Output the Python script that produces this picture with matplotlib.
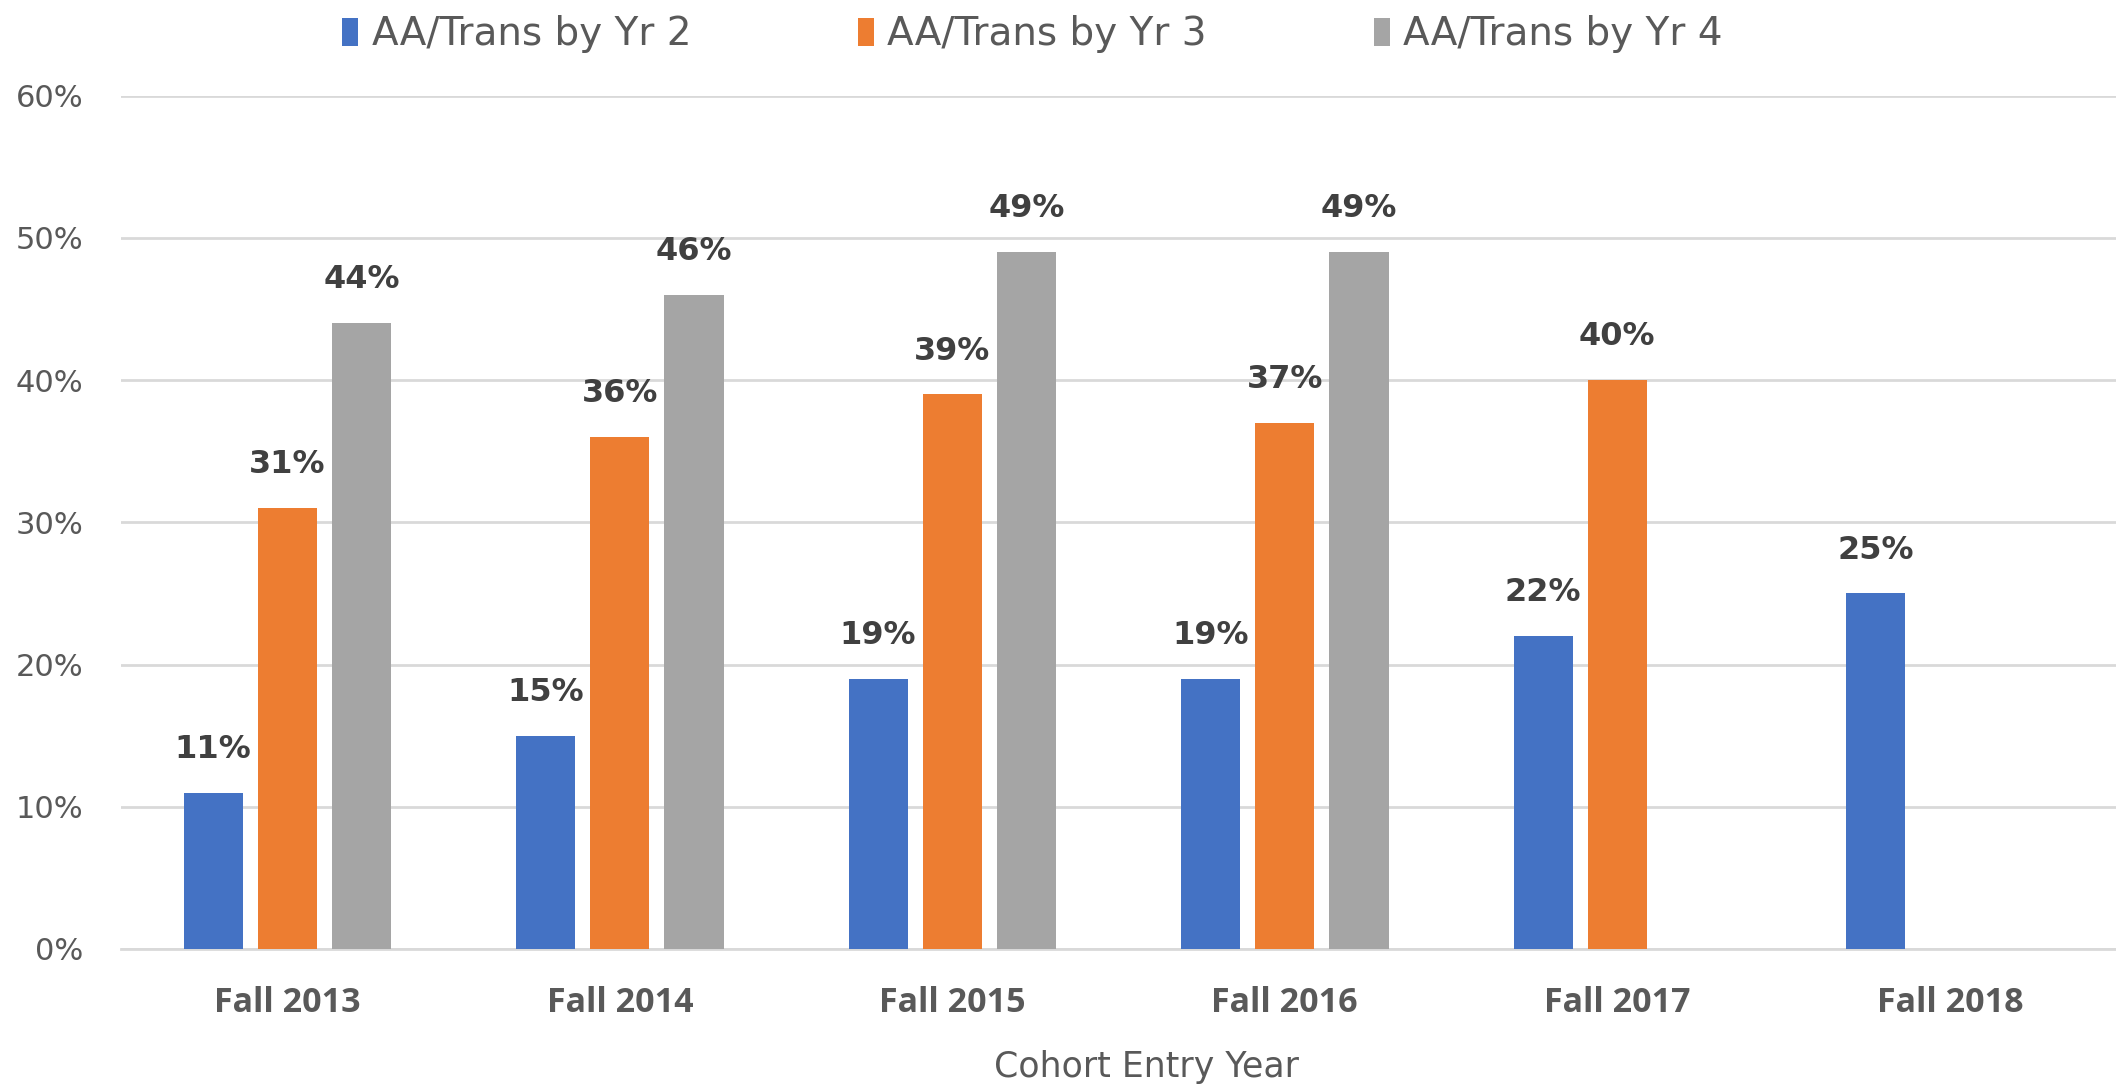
import matplotlib
matplotlib.use("Agg")
import matplotlib.pyplot as plt
import numpy as np

categories = ["Fall 2013", "Fall 2014", "Fall 2015", "Fall 2016", "Fall 2017", "Fall 2018"]
series_names = ["AA/Trans by Yr 2", "AA/Trans by Yr 3", "AA/Trans by Yr 4"]
yr2 = [0.11, 0.15, 0.19, 0.19, 0.22, 0.25]
yr3 = [0.31, 0.36, 0.39, 0.37, 0.40, None]
yr4 = [0.44, 0.46, 0.49, 0.49, None, None]
colors = ["#4472C4", "#ED7D31", "#A5A5A5"]
yticks = [0, 0.1, 0.2, 0.3, 0.4, 0.5, 0.6]

fig = plt.figure(figsize=(21.16, 10.87), dpi=100)
ax = fig.add_axes([0.0572, 0.127, 0.9428, 0.785])

x = np.arange(len(categories))
step = 0.223
width = 0.178
for i, (vals, name, col) in enumerate(zip([yr2, yr3, yr4], series_names, colors)):
    xs = [xi + (i - 1) * step for xi, v in zip(x, vals) if v is not None]
    vs = [v for v in vals if v is not None]
    ax.bar(xs, vs, width=width, color=col, label=name, zorder=3)
    for xb, v in zip(xs, vs):
        ax.annotate(f"{round(v*100):.0f}%", (xb, v), xytext=(0, 20), textcoords="offset points",
                    ha="center", va="bottom", fontsize=23, fontweight="bold",
                    color="#404040", family="DejaVu Sans")

ax.set_xlim(-0.5, len(categories) - 0.5)
ax.set_ylim(0, 0.6)
ax.set_yticks(yticks)
ax.set_yticklabels([f"{int(round(t*100))}%" for t in yticks], fontsize=22, color="#595959",
                   family="DejaVu Sans")
ax.set_xticks(x)
ax.set_xticklabels(categories, fontsize=24.5, fontweight="bold", color="#595959", family="Open Sans")
ax.tick_params(axis="both", length=0)
ax.tick_params(axis="x", pad=27)
ax.tick_params(axis="y", pad=27)
ax.grid(axis="y", color="#D9D9D9", linewidth=2, zorder=0)
for s in ["top", "right", "left"]:
    ax.spines[s].set_visible(False)
ax.spines["bottom"].set_color("#D9D9D9")
ax.spines["bottom"].set_linewidth(2)
ax.set_xlabel("Cohort Entry Year", fontsize=25, color="#595959", family="DejaVu Sans")
ax.xaxis.set_label_coords(0.514, -0.119)

leg = fig.legend(loc="upper center", bbox_to_anchor=(0.488, 1.018), ncol=3, frameon=False,
                 prop={"family": "DejaVu Sans", "size": 28}, handlelength=0.4, handleheight=0.75,
                 handletextpad=0.35, columnspacing=4.3)
for t in leg.get_texts():
    t.set_color("#595959")

fig.savefig("out.png", dpi=100, facecolor="white")
